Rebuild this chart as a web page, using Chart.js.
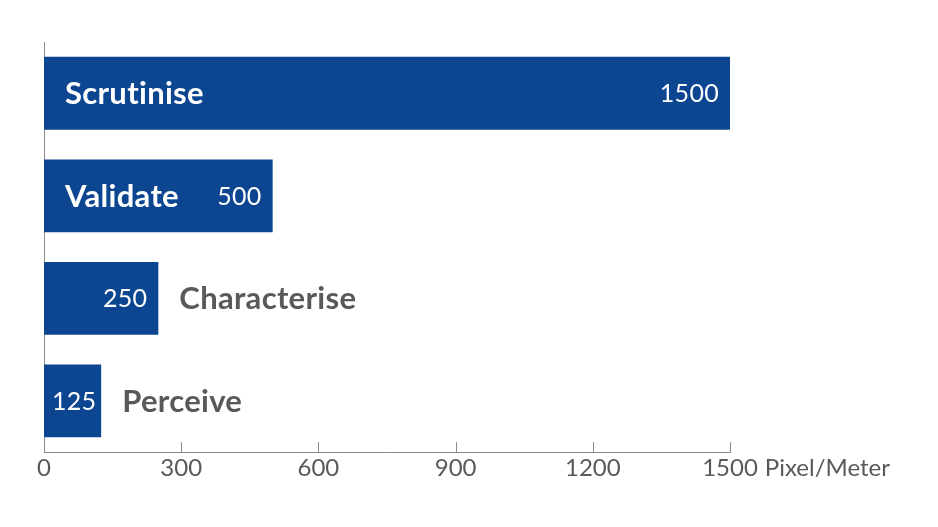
<!DOCTYPE html>
<html>
<head>
<meta charset="utf-8">
<script src="https://cdn.jsdelivr.net/npm/chart.js@4.4.0/dist/chart.umd.min.js"></script>
<style>
  html, body { margin: 0; padding: 0; background: #fff; }
  #wrap { width: 938px; height: 527px; }
</style>
</head>
<body>
<div id="wrap"><canvas id="speedChart"></canvas></div>
<script>
const categories = ["Scrutinise", "Validate", "Characterise", "Perceive"];
const values = [1500, 500, 250, 125];
const tickValues = [0, 300, 600, 900, 1200, 1500];
const unitLabel = "Pixel/Meter";

const barColor = "#0d4690";
const textGrey = "#58595b";
const axisGrey = "#8a8a8a";
const fontFamily = "Lato, 'Noto Sans', sans-serif";
const tickSize = 24;

// draws category names, values, inner tick marks and unit text
const labelPlugin = {
  id: "barLabels",
  afterDatasetsDraw(chart) {
    const ctx = chart.ctx;
    const meta = chart.getDatasetMeta(0);
    const xScale = chart.scales.x;
    ctx.save();
    ctx.textBaseline = "middle";
    if ("letterSpacing" in ctx) ctx.letterSpacing = "0.3px";
    meta.data.forEach(function (bar, i) {
      const left = xScale.getPixelForValue(0);
      const right = bar.x;
      const y = bar.y + 1;

      ctx.font = "bold 31px " + fontFamily;
      const nameW = ctx.measureText(categories[i]).width;
      ctx.font = "25px " + fontFamily;
      const valW = ctx.measureText(String(values[i])).width;
      const inside = right - left > nameW + valW + 60;

      ctx.fillStyle = "#fff";
      ctx.textAlign = "right";
      ctx.fillText(String(values[i]), Math.max(right - 11, left + 8 + valW), y);

      ctx.font = "bold 31px " + fontFamily;
      ctx.textAlign = "left";
      if (inside) {
        ctx.fillStyle = "#fff";
        ctx.fillText(categories[i], left + 21, y);
      } else {
        ctx.fillStyle = textGrey;
        ctx.fillText(categories[i], right + 21, y);
      }
    });
    if ("letterSpacing" in ctx) ctx.letterSpacing = "0px";

    // tick marks pointing up into the plot
    const bottom = chart.chartArea.bottom;
    ctx.strokeStyle = axisGrey;
    ctx.lineWidth = 1;
    tickValues.forEach(function (v) {
      if (v === 0) return;
      const x = Math.round(xScale.getPixelForValue(v)) + 0.5;
      ctx.beginPath();
      ctx.moveTo(x, bottom);
      ctx.lineTo(x, bottom - 10);
      ctx.stroke();
    });

    // unit after the last tick label
    ctx.font = tickSize + "px " + fontFamily;
    const last = tickValues[tickValues.length - 1];
    const lastW = ctx.measureText(String(last)).width;
    ctx.fillStyle = textGrey;
    ctx.textAlign = "left";
    ctx.textBaseline = "middle";
    const lx = xScale.getPixelForValue(last) + lastW / 2 + 7;
    const ly = xScale.top + 2 + tickSize * 0.6;
    ctx.fillText(unitLabel, lx, ly);
    ctx.restore();
  },
};

const ctx = document.getElementById("speedChart").getContext("2d");
new Chart(ctx, {
  type: "bar",
  data: {
    labels: categories,
    datasets: [
      {
        data: values,
        backgroundColor: barColor,
        borderWidth: 0,
        barPercentage: 0.71,
        categoryPercentage: 1,
      },
    ],
  },
  options: {
    indexAxis: "y",
    responsive: true,
    maintainAspectRatio: false,
    animation: false,
    layout: {
      padding: { left: 44, right: 208, top: 42, bottom: 42 },
    },
    plugins: {
      legend: { display: false },
      tooltip: { enabled: false },
    },
    scales: {
      x: {
        min: 0,
        max: 1500,
        afterBuildTicks: function (axis) {
          axis.ticks = tickValues.map(function (v) { return { value: v }; });
        },
        grid: { display: false, drawTicks: false, tickLength: 0 },
        border: { display: true, color: axisGrey, width: 1 },
        ticks: {
          color: textGrey,
          font: { family: fontFamily, size: tickSize },
          padding: 2,
          maxRotation: 0,
          autoSkip: false,
          callback: function (value) { return String(value); },
        },
      },
      y: {
        afterFit: function (axis) { axis.width = 0; },
        grid: { display: false, drawTicks: false },
        border: { display: true, color: axisGrey, width: 1 },
        ticks: { display: false },
      },
    },
  },
  plugins: [labelPlugin],
});
</script>
</body>
</html>
